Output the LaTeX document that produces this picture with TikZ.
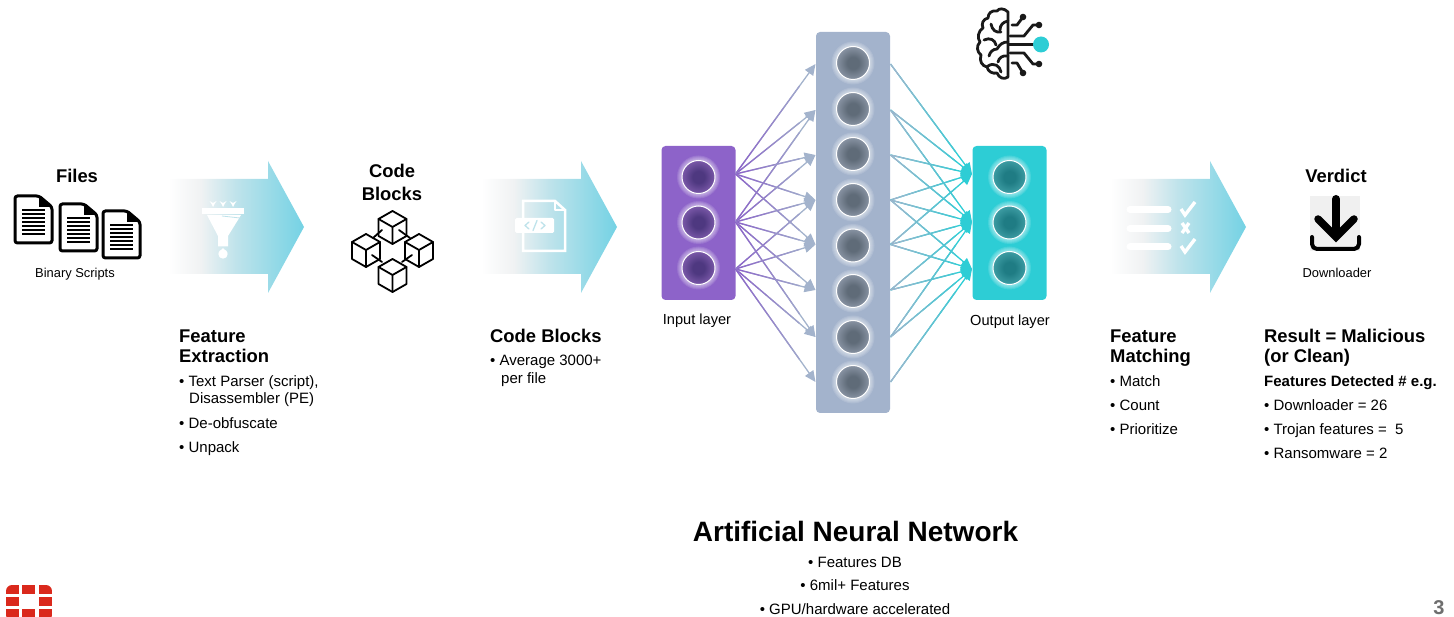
\documentclass[tikz,border=0pt]{standalone}
\usepackage{fontspec}
\setmainfont{Liberation Sans}
\usepackage{tikz}
\usetikzlibrary{calc}
\usetikzlibrary{arrows.meta}

\definecolor{bandgray}{HTML}{F0F2F3}
\definecolor{bandmid}{HTML}{BFE3EB}
\definecolor{bandtip}{HTML}{74D2E4}
\definecolor{inpanel}{HTML}{8D63C9}
\definecolor{hidpanel}{HTML}{A3B3CC}
\definecolor{outpanel}{HTML}{2DCDD5}
\definecolor{indark}{HTML}{4E3880}
\definecolor{inlight}{HTML}{7A58A8}
\definecolor{hiddark}{HTML}{5F6B78}
\definecolor{hidlight}{HTML}{8893A3}
\definecolor{outdark}{HTML}{1F7C84}
\definecolor{outlight}{HTML}{3D9CA3}
\definecolor{fortired}{HTML}{DA291C}
\definecolor{pagenum}{HTML}{6E6E6E}

\pgfdeclarehorizontalshading{bandfade}{100bp}{color(0bp)=(white); color(25bp)=(white); color(37bp)=(bandgray); color(50bp)=(bandmid); color(75bp)=(bandtip); color(100bp)=(bandtip)}
\pgfdeclareradialshading{inball}{\pgfpoint{0bp}{0bp}}{color(0bp)=(indark); color(9bp)=(indark); color(25bp)=(inlight); color(50bp)=(inlight)}
\pgfdeclareradialshading{hidball}{\pgfpoint{0bp}{0bp}}{color(0bp)=(hiddark); color(9bp)=(hiddark); color(25bp)=(hidlight); color(50bp)=(hidlight)}
\pgfdeclareradialshading{outball}{\pgfpoint{0bp}{0bp}}{color(0bp)=(outdark); color(9bp)=(outdark); color(25bp)=(outlight); color(50bp)=(outlight)}

\tikzset{
	headtext/.style={font=\fontsize{18.4}{20}\selectfont\bfseries,inner sep=0,text height=13,text depth=3.5,yshift=-2},
	bodytext/.style={font=\fontsize{15}{17}\selectfont,inner sep=0,text height=10.5,text depth=3,yshift=-2},
	smalltext/.style={font=\fontsize{12.9}{15}\selectfont,inner sep=0,text height=10,text depth=3,yshift=-2},
	layertext/.style={font=\fontsize{14.6}{16}\selectfont,inner sep=0,text height=10.5,text depth=3,yshift=-2},
	panelnode/.style={rounded corners=4,minimum width=74,inner sep=0},
	ballnode/.style={circle,draw=white,line width=1,minimum size=33,inner sep=0},
	nnline/.style={line width=1.3},
	nnarrow/.style={line width=1.3,-{Triangle[length=11,width=10]}},
	iconwhite/.style={white,line width=2.5,line cap=round,line join=round},
	cubeline/.style={black,line width=1.8,line cap=round,line join=round},
}

% arrow band, #1 = left end of the shaft
\newcommand{\bandarrow}[1]{
	\shade[shading=bandfade] (#1,179) -- (#1+100,179) -- (#1+100,161) -- (#1+136,227) -- (#1+100,293) -- (#1+100,274) -- (#1,274) -- cycle;
}
% ball with glow
\newcommand{\nnball}[4]{
	\foreach \gr in {17.5,18.5,...,21.5}
		\fill[white,opacity=0.12] (#2,#3) circle (\gr);
	\node[ballnode,shading=#4] (#1) at (#2,#3) {};
}
% line that goes from one colour to the other
\newcommand{\nnlink}[4]{
	\draw[nnarrow,#4] (#1) -- (#2);
	\foreach \s [evaluate=\s as \e using \s+0.1, evaluate=\s as \p using 100-\s*110] in {0,0.1,...,0.8}
		\draw[nnline,#3!\p!#4] ($(#1)!\s!(#2)$) -- ($(#1)!\e!(#2)$);
}
\newcommand{\docicon}[2]{
	\begin{scope}[shift={(#1,#2)}]
	\draw[line width=3,rounded corners=2.5,fill=white] (0,0) -- (24,0) -- (37,11) -- (37,47) -- (0,47) -- cycle;
	\fill (24,0) -- (24,11) -- (37,11) -- cycle;
	\foreach \ly in {14,18,...,38}
		\draw[line width=1.7] (7,\ly) -- (30,\ly);
	\end{scope}
}
\newcommand{\cubeicon}[2]{
	\begin{scope}[shift={(#1,#2)}]
	\draw[cubeline] (0,0) -- (14,8) -- (14,25) -- (0,33) -- (-14,25) -- (-14,8) -- cycle;
	\draw[cubeline] (-14,8) -- (0,16) -- (14,8) (0,16) -- (0,33);
	\end{scope}
}

\begin{document}
\begin{tikzpicture}[x=1pt,y=-1pt]
	\useasboundingbox (0,0) rectangle (1454,617);
	
	% arrow bands
	\bandarrow{168}
	\bandarrow{481}
	\bandarrow{1110}
	
	% files
	\node[headtext] (filestitle) at (77,176) {Files};
	\docicon{15}{196}
	\docicon{60}{204}
	\docicon{103}{211}
	\node[smalltext] (filesnote) at (75,272) {Binary Scripts};
	
	% funnel
	\fill[white] (202,208) rectangle (244,214);
	\fill[white] (207,215) -- (241,215) -- (228,236) -- (228,246.5) -- (218,246.5) -- (218,236) -- cycle;
	\fill[white] (223,248) -- (227.5,253) -- (218.5,253) -- cycle;
	\fill[white] (223,254) circle (4.7);
	\draw[bandmid,line width=0.8] (222,216) -- (240,218);
	\foreach \fx in {213,223,233}
		\fill[white] (\fx-3.5,201) -- (\fx,203) -- (\fx+3.5,201) -- (\fx+1.5,204) -- (\fx,207) -- (\fx-1.5,204) -- cycle;
	
	% code blocks
	\node[headtext] (blockstitlea) at (392,171) {Code};
	\node[headtext] (blockstitleb) at (392,194) {Blocks};
	\cubeicon{392.5}{211}
	\cubeicon{366}{234}
	\cubeicon{419}{234}
	\cubeicon{392.5}{259}
	\draw[cubeline] (382,230) -- (373,238) (399,230) -- (410,238) (372,255) -- (382,262) (412,255) -- (402,262);
	
	% file with tag
	\draw[iconwhite,line join=miter] (523,218) -- (523,201) -- (555,201) -- (565,210) -- (565,251) -- (523,251) -- (523,233);
	\draw[iconwhite,line width=1.5] (555,201) -- (555,210) -- (565,210);
	\fill[white,rounded corners=1.5] (515,218) rectangle (554,233);
	\draw[bandmid,line width=1.3,line cap=round,line join=round] (529,222) -- (525,225.5) -- (529,229) (541,222) -- (545,225.5) -- (541,229) (537,220.5) -- (533,230.5);
	
	% panels
	\node[panelnode,minimum height=154,fill=inpanel] (inputpanel) at (698.5,223) {};
	\node[panelnode,minimum height=381,fill=hidpanel] (hiddenpanel) at (853,222.5) {};
	\node[panelnode,minimum height=154,fill=outpanel] (outputpanel) at (1009.5,223) {};
	
	% balls
	\foreach \n/\y in {1/177,2/222.5,3/268}{
		\nnball{inb\n}{698.5}{\y}{inball}
		\nnball{outb\n}{1009.5}{\y}{outball}
	}
	\foreach \n/\y in {1/63,2/109,3/154,4/200,5/245.5,6/291,7/337,8/382}{
		\nnball{hidb\n}{853}{\y}{hidball}
	}
	
	% ends of the links
	\foreach \n/\y in {1/174,2/222,3/269}{
		\coordinate (ina\n) at (735.5,\y);
		\coordinate (outa\n) at (972,\y);
	}
	\foreach \n/\y in {1/64,2/110,3/155,4/200,5/244.5,6/290,7/337,8/382}{
		\coordinate (hidl\n) at (815.5,\y);
		\coordinate (hidr\n) at (890.5,\y);
	}
	\foreach \a/\b in {1/1,1/2,1/3,1/4,1/5,2/2,2/3,2/4,2/5,2/6,2/7,3/4,3/5,3/6,3/7,3/8}{
		\nnlink{ina\a}{hidl\b}{inpanel}{hidpanel}
	}
	\foreach \a/\b in {1/1,2/1,3/1,4/1,5/1,2/2,3/2,4/2,5/2,6/2,7/2,4/3,5/3,6/3,7/3,8/3}{
		\nnlink{hidr\a}{outa\b}{hidpanel}{outpanel}
	}
	
	\node[layertext] (inputlabel) at (697,319) {Input layer};
	\node[layertext] (outputlabel) at (1010,320) {Output layer};
	
	% brain
	\begin{scope}[black!90,line width=2.8,line cap=round,line join=round]
	\draw (1008,12) .. controls (1004,8) and (999,8) .. (997,11) .. controls (992,10) and (988,13) .. (988,18) .. controls (983,19) and (981,24) .. (983,28) .. controls (978,31) and (977,38) .. (980,42) .. controls (976,46) and (977,52) .. (981,55) .. controls (979,61) and (982,66) .. (987,67) .. controls (988,72) and (993,74) .. (997,73) .. controls (999,78) and (1004,80) .. (1008,77) -- cycle;
	\draw (1008,21) .. controls (1003,22) and (1000,25) .. (1000,30) (991,24) .. controls (992,30) and (996,33) .. (1001,32);
	\draw (984,40) .. controls (990,37) and (995,40) .. (996,45) (1008,42) .. controls (1003,42) and (1000,44) .. (997,49) .. controls (993,49) and (990,52) .. (989,56);
	\draw (1008,56) .. controls (1002,55) and (999,58) .. (998,62) (988,66) .. controls (994,62) and (1000,66) .. (1001,72);
	\draw (1012,25) -- (1017,25) -- (1023,17);
	\draw (1010,36) -- (1024,36) -- (1033,25) -- (1039,25);
	\draw (1009,44.5) -- (1036,44.5);
	\draw (1010,53) -- (1024,53) -- (1033,64) -- (1039,64);
	\draw (1012,63) -- (1017,63) -- (1023,73);
	\foreach \tx/\ty in {1023/17,1039/25,1039/64,1023/73}
		\fill (\tx,\ty) circle (3.3);
	\end{scope}
	\fill[outpanel] (1041,44.5) circle (8);
	
	% checklist
	\foreach \ly in {209.5,228.5,247}
		\draw[white,line width=7,line cap=round] (1130,\ly) -- (1168,\ly);
	\draw[iconwhite,line width=3.4,line cap=butt,line join=miter] (1181,209) -- (1185,215) -- (1195,202);
	\draw[iconwhite,line width=3.4,line cap=butt] (1182,223) -- (1189,233) (1189,223) -- (1182,233);
	\draw[iconwhite,line width=3.4,line cap=butt,line join=miter] (1181,246) -- (1185,252) -- (1195,239);
	
	% download
	\fill[black!6] (1310,196) rectangle (1360,251);
	\draw[black,line width=8,line cap=round] (1336,199) -- (1336,235);
	\draw[black,line width=7.5,line cap=round,line join=miter] (1318,219) -- (1336,237) -- (1354,219);
	\draw[black,line width=4,line cap=round,rounded corners=5] (1312,237) -- (1312,249) -- (1359,249) -- (1359,237);
	\node[headtext] (verdicttitle) at (1336,176) {Verdict};
	\node[smalltext] (verdictnote) at (1337,272) {Downloader};
	
	% lists
	\node[headtext,anchor=west] (extracta) at (179,336) {Feature};
	\node[headtext,anchor=west] (extractb) at (179,356) {Extraction};
	\node[bodytext,anchor=west] (extractc) at (179,381) {• Text Parser (script),};
	\node[bodytext,anchor=west] (extractd) at (189,398) {Disassembler (PE)};
	\node[bodytext,anchor=west] (extracte) at (179,423) {• De-obfuscate};
	\node[bodytext,anchor=west] (extractf) at (179,447) {• Unpack};
	
	\node[headtext,anchor=west] (blocksa) at (490,336) {Code Blocks};
	\node[bodytext,anchor=west] (blocksb) at (490,360) {• Average 3000+};
	\node[bodytext,anchor=west] (blocksc) at (501,378) {per file};
	
	\node[headtext,anchor=west] (matcha) at (1110,336) {Feature};
	\node[headtext,anchor=west] (matchb) at (1110,356) {Matching};
	\node[bodytext,anchor=west] (matchc) at (1110,381) {• Match};
	\node[bodytext,anchor=west] (matchd) at (1110,405) {• Count};
	\node[bodytext,anchor=west] (matche) at (1110,429) {• Prioritize};
	
	\node[headtext,anchor=west] (resulta) at (1264,336) {Result = Malicious};
	\node[headtext,anchor=west] (resultb) at (1264,356) {(or Clean)};
	\node[bodytext,anchor=west,font=\fontsize{15}{17}\selectfont\bfseries] (resultc) at (1264,381) {Features Detected \# e.g.};
	\node[bodytext,anchor=west] (resultd) at (1264,405) {• Downloader = 26};
	\node[bodytext,anchor=west] (resulte) at (1264,429) {• Trojan features =\ \ 5};
	\node[bodytext,anchor=west] (resultf) at (1264,453) {• Ransomware = 2};
	
	\node[font=\fontsize{28}{30}\selectfont\bfseries,inner sep=0] (anntitle) at (855.5,531) {Artificial Neural Network};
	\node[bodytext] (anna) at (855,562) {• Features DB};
	\node[bodytext] (annb) at (855,585) {• 6mil+ Features};
	\node[bodytext,yshift=-0.5] (annc) at (855,608.5) {• GPU/hardware accelerated};
	
	% logo
	\begin{scope}[fortired]
	\clip[rounded corners=6] (6,585) rectangle (52,621);
	\fill (6,585) rectangle (19,594);
	\fill (22,585) rectangle (35,594);
	\fill (39,585) rectangle (52,594);
	\fill (6,597) rectangle (19,606);
	\fill (39,597) rectangle (52,606);
	\fill (6,609) rectangle (19,617);
	\fill (22,609) rectangle (35,617);
	\fill (39,609) rectangle (52,617);
	\end{scope}
	\node[font=\fontsize{20}{22}\selectfont\bfseries,text=pagenum,inner sep=0] (pagelabel) at (1439,608) {3};
\end{tikzpicture}
\end{document}
